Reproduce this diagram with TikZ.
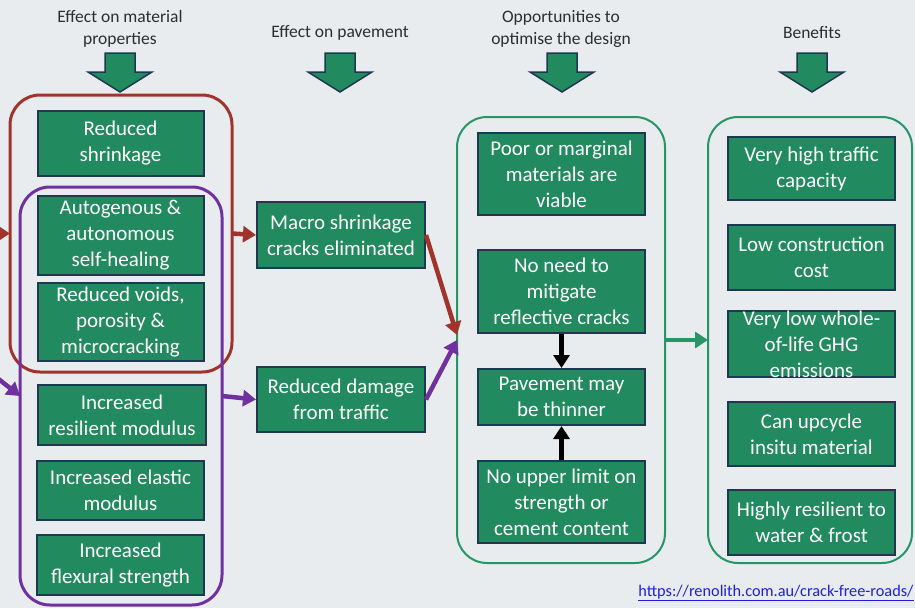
\documentclass[tikz,border=0pt]{standalone}
\usepackage{fontspec}
\setmainfont{Carlito}
\usetikzlibrary{arrows.meta}

\definecolor{boxgreen}{RGB}{33,138,94}
\definecolor{boxedge}{RGB}{31,56,79}
\definecolor{matred}{RGB}{160,52,45}
\definecolor{matpurple}{RGB}{112,48,160}
\definecolor{optgreen}{RGB}{38,150,102}
\definecolor{bgcol}{RGB}{233,236,238}
\definecolor{hdrtext}{RGB}{45,45,45}
\definecolor{linkblue}{RGB}{30,30,230}

\begin{document}
\begin{tikzpicture}[x=1pt, y=-1pt]
        \tikzstyle{fx}=[draw=boxedge, line width=2pt, fill=boxgreen, text=white, align=center, inner sep=0pt, font=\fontsize{21}{26}\selectfont]
        \tikzstyle{hdr}=[text=hdrtext, align=center, font=\fontsize{17.5}{22}\selectfont]
        \tikzstyle{group}=[draw, rounded corners=30pt, inner sep=0pt, outer sep=0pt]
        \tikzstyle{hdrarrow}=[draw=boxedge, line width=1.5pt, fill=boxgreen, line join=miter]
        \tikzstyle{conn}=[line width=4.5pt, -{Triangle[length=13pt, width=16pt]}]
        \useasboundingbox (0,0) rectangle (915,608);
        \fill[bgcol] (0,0) rectangle (915,608);

        % column headings
        \node[hdr] (hdr-mat) at (120,29) {Effect on material\\properties};
        \node[hdr] (hdr-pave) at (340,33) {Effect on pavement};
        \node[hdr] (hdr-opt) at (561,29) {Opportunities to\\optimise the design};
        \node[hdr] (hdr-ben) at (812,33) {Benefits};
        \foreach \x in {120,340,562,812}
            \draw[hdrarrow] (\x-15,53) -- (\x+15,53) -- (\x+15,72) -- (\x+32,72) -- (\x,92) -- (\x-32,72) -- (\x-15,72) -- cycle;

        % groups
        \node[group, draw=matred, line width=3pt, minimum width=222pt, minimum height=277pt] (matprop) at (121,233.5) {};
        \node[group, draw=matpurple, line width=3pt, minimum width=202pt, minimum height=418pt] (dmgprop) at (121,396) {};
        \node[group, draw=optgreen, line width=2pt, minimum width=208pt, minimum height=446pt] (opt) at (561,340) {};
        \node[group, draw=optgreen, line width=2pt, minimum width=204pt, minimum height=446pt] (ben) at (810,340) {};

        % effect on material properties
        \node[fx, minimum width=166pt, minimum height=65pt] (shrink) at (120.5,143.5) {Reduced\\shrinkage};
        \node[fx, minimum width=166pt, minimum height=79pt] (heal) at (120.5,235.5) {Autogenous \&\\autonomous\\self-healing};
        \node[fx, minimum width=166pt, minimum height=78pt] (voids) at (120.5,322) {Reduced voids,\\porosity \&\\microcracking};
        \node[fx, minimum width=168pt, minimum height=60pt] (resil) at (122,415) {Increased\\resilient modulus};
        \node[fx, minimum width=167pt, minimum height=59pt] (elastic) at (120.5,490.5) {Increased elastic\\modulus};
        \node[fx, minimum width=167pt, minimum height=60pt] (flex) at (120.5,565) {Increased\\flexural strength};

        % effect on pavement
        \node[fx, minimum width=168pt, minimum height=66pt] (macro) at (341,235) {Macro shrinkage\\cracks eliminated};
        \node[fx, minimum width=168pt, minimum height=65pt] (damage) at (341,399.5) {Reduced damage\\from traffic};

        % opportunities
        \node[fx, minimum width=167pt, minimum height=82pt] (poor) at (561.5,174) {Poor or marginal\\materials are\\viable};
        \node[fx, minimum width=167pt, minimum height=83pt] (nomit) at (561.5,291.5) {No need to\\mitigate\\reflective cracks};
        \node[fx, minimum width=167pt, minimum height=56pt] (thin) at (561.5,397) {Pavement may\\be thinner};
        \node[fx, minimum width=167pt, minimum height=82pt] (upper) at (561.5,502) {No upper limit on\\strength or\\cement content};

        % benefits
        \node[fx, minimum width=167pt, minimum height=63pt] (traffic) at (811.5,168.5) {Very high traffic\\capacity};
        \node[fx, minimum width=167pt, minimum height=65pt] (cost) at (811.5,257.5) {Low construction\\cost};
        \node[fx, minimum width=167pt, minimum height=66pt] (ghg) at (811.5,344) {Very low whole-\\of-life GHG\\emissions};
        \node[fx, minimum width=167pt, minimum height=64pt] (upcycle) at (811.5,434) {Can upcycle\\insitu material};
        \node[fx, minimum width=167pt, minimum height=65pt] (frost) at (811.5,522.5) {Highly resilient to\\water \& frost};

        % connectors
        \coordinate (in-red) at (-2,233.5);
        \coordinate (in-pur) at (-4,377);
        \draw[conn, matred] (in-red) -- (matprop.west);
        \draw[conn, matpurple] (in-pur) -- (dmgprop.west);
        \draw[conn, matred] (matprop.east) -- (macro.west);
        \draw[conn, matpurple] (dmgprop.east) -- (damage.west);
        \draw[conn, matred] (macro.east) -- ([yshift=5pt]opt.west);
        \draw[conn, matpurple] (damage.east) -- (opt.west);
        \draw[conn, black] (nomit.south) -- (thin.north);
        \draw[conn, black] (upper.north) -- (thin.south);
        \draw[conn, optgreen] (opt.east) -- (ben.west);

        \node[text=linkblue, font=\fontsize{16.3}{18}\selectfont] (link) at (776,593) {\underline{https://renolith.com.au/crack-free-roads/}};
    \end{tikzpicture}
\end{document}
